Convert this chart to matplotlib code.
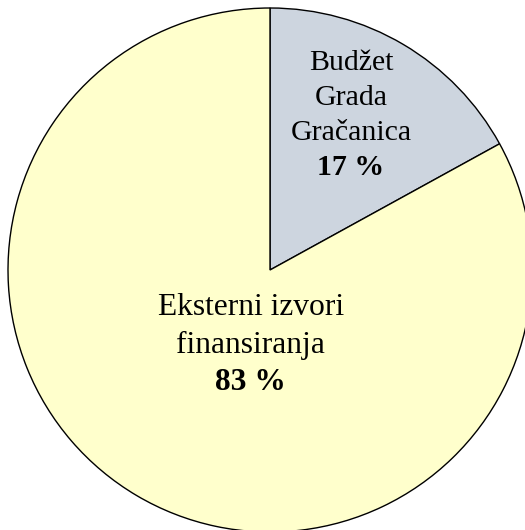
import matplotlib

matplotlib.use("Agg")
import matplotlib.pyplot as plt

labels = [["Budžet", "Grada", "Gračanica"], ["Eksterni izvori", "finansiranja"]]
shares = [17, 83]
colors = ["#cdd5df", "#ffffcc"]

plt.rcParams["font.family"] = ["Liberation Serif", "DejaVu Serif"]

fig = plt.figure(figsize=(5.25, 5.3), dpi=100)
ax = fig.add_axes([8 / 525, -2 / 530, 524 / 525, 524 / 530])

ax.pie(
    shares,
    colors=colors,
    startangle=90,
    counterclock=False,
    radius=1,
    wedgeprops={"edgecolor": "black", "linewidth": 1.0},
)
ax.set_xlim(-1, 1)
ax.set_ylim(-1, 1)
ax.set_aspect("equal")
ax.axis("off")

# label placement: x centre, first baseline, line step, font size
label_pos = [(0.309, 0.763, 0.133, 21.5), (-0.073, -0.172, 0.143, 22.7)]
for (x, y0, step, fs), lines, val in zip(label_pos, labels, shares):
    for i, line in enumerate(lines):
        ax.text(x, y0 - i * step, line, ha="center", va="baseline", fontsize=fs)
    ax.text(x, y0 - len(lines) * step, f"{val} %", ha="center",
            va="baseline", fontsize=fs, fontweight="bold")

fig.savefig("out.png", dpi=100)
